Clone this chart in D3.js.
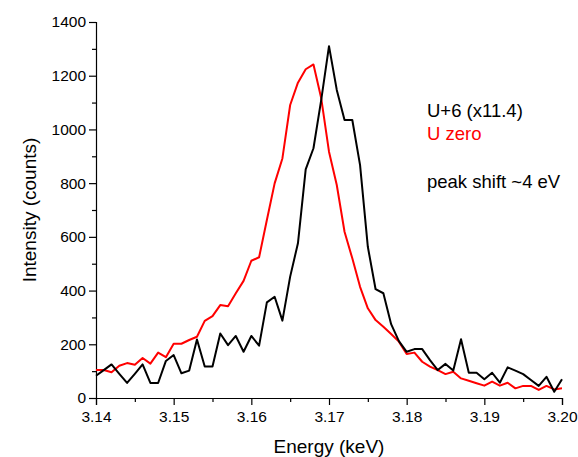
<!DOCTYPE html>
<html>
<head>
<meta charset="utf-8">
<script src="https://cdn.jsdelivr.net/npm/d3@7"></script>
<style>
  html, body { margin: 0; padding: 0; background: #fff; }
  svg { display: block; font-family: Arial, "Liberation Sans", sans-serif; }
</style>
</head>
<body>
<svg id="chart" width="578" height="457"></svg>
<script>
// Energy grid (keV): 3.140 .. 3.200 in 0.001 steps
const energy = [
  3.140,3.141,3.142,3.143,3.144,3.145,3.146,3.147,3.148,3.149,
  3.150,3.151,3.152,3.153,3.154,3.155,3.156,3.157,3.158,3.159,
  3.160,3.161,3.162,3.163,3.164,3.165,3.166,3.167,3.168,3.169,
  3.170,3.171,3.172,3.173,3.174,3.175,3.176,3.177,3.178,3.179,
  3.180,3.181,3.182,3.183,3.184,3.185,3.186,3.187,3.188,3.189,
  3.190,3.191,3.192,3.193,3.194,3.195,3.196,3.197,3.198,3.199,
  3.200
];
// U+6 (x11.4) – black
const uPlus6 = [
  83,104,125,90,56,90,125,56,56,138,
  160,92,102,218,117,117,240,197,231,172,
  231,195,356,377,288,452,576,851,930,1110,
  1310,1147,1035,1035,867,563,405,390,275,212,
  172,182,182,141,104,127,102,219,94,94,
  70,94,57,114,102,89,67,45,79,23,
  70
];
// U zero – red
const uZero = [
  104,104,96,120,130,124,149,128,169,152,
  202,202,216,228,287,305,346,342,390,436,
  511,524,663,799,892,1091,1174,1224,1242,1116,
  917,793,619,520,414,334,290,265,238,210,
  164,169,135,117,104,89,98,73,64,55,
  46,61,46,57,36,45,45,30,45,32,
  36
];
const xMajor = [3.14,3.15,3.16,3.17,3.18,3.19,3.20];
const xMinor = [3.145,3.155,3.165,3.175,3.185,3.195];
const yMajor = [0,200,400,600,800,1000,1200,1400];
const yMinor = [100,300,500,700,900,1100,1300];
const legendLines = ["U+6 (x11.4)", "U zero", "peak shift ~4 eV"];
const legendColors = ["#000000", "#ff0000", "#000000"];

const svg = d3.select("#chart");
const L = 96, R = 562, T = 22, B = 398;
const x = d3.scaleLinear().domain([3.14, 3.20]).range([L, R]);
const y = d3.scaleLinear().domain([0, 1400]).range([B, T]);

// X axis
const gx = svg.append("g").attr("transform", `translate(0,${B})`);
gx.call(d3.axisBottom(x).tickValues(xMajor).tickSize(7).tickPadding(6)
  .tickFormat(d3.format(".2f")));
const gxm = svg.append("g").attr("transform", `translate(0,${B})`);
gxm.call(d3.axisBottom(x).tickValues(xMinor).tickSize(4).tickFormat(""));
gxm.select(".domain").remove();

// Y axis
const gy = svg.append("g").attr("transform", `translate(${L},0)`);
gy.call(d3.axisLeft(y).tickValues(yMajor).tickSize(7).tickPadding(3).tickFormat(d3.format("d")));
const gym = svg.append("g").attr("transform", `translate(${L},0)`);
gym.call(d3.axisLeft(y).tickValues(yMinor).tickSize(4).tickFormat(""));
gym.select(".domain").remove();

svg.selectAll(".domain").attr("stroke", "#000").attr("stroke-width", 1.2);
svg.selectAll(".tick line").attr("stroke", "#000").attr("stroke-width", 1.2);
svg.selectAll(".tick text").attr("font-size", 15.5).attr("fill", "#000")
  .attr("font-family", "Arial, 'Liberation Sans', sans-serif");

// Axis titles
svg.append("text").attr("x", (L + R) / 2).attr("y", 453)
  .attr("text-anchor", "middle").attr("font-size", 19).text("Energy (keV)");
svg.append("text").attr("transform", `translate(36,${(T + B) / 2}) rotate(-90)`)
  .attr("text-anchor", "middle").attr("font-size", 19).text("Intensity (counts)");

// Lines
const line = vals => d3.line().x((d, i) => x(energy[i])).y(d => y(d))(vals);
svg.append("path").attr("d", line(uZero)).attr("fill", "none")
  .attr("stroke", "#ff0000").attr("stroke-width", 2).attr("stroke-linejoin", "round");
svg.append("path").attr("d", line(uPlus6)).attr("fill", "none")
  .attr("stroke", "#000").attr("stroke-width", 2).attr("stroke-linejoin", "round");

// Legend text
const legendY = [117, 140, 188];
legendLines.forEach((t, i) => {
  svg.append("text").attr("x", 427).attr("y", legendY[i])
    .attr("font-size", 18.5).attr("fill", legendColors[i]).text(t);
});
</script>
</body>
</html>
